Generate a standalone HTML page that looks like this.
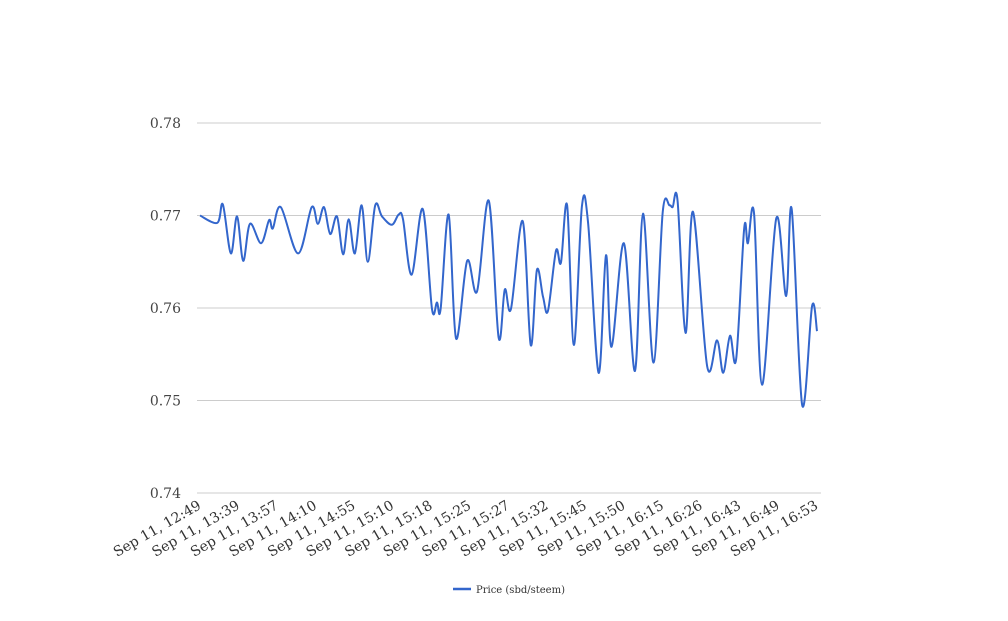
<!DOCTYPE html>
<html><head><meta charset="utf-8">
<style>
html,body{margin:0;padding:0;background:#fff;}
svg text{font-family:"DejaVu Serif","Liberation Serif",serif;}
</style></head>
<body>
<svg id="chart" width="1008" height="616" viewBox="0 0 1008 616" xmlns="http://www.w3.org/2000/svg">
<g id="grid"></g>
<g id="yaxis"></g>
<g id="xaxis"></g>
<g id="series"></g>
<g>
<line x1="453" y1="589" x2="471" y2="589" stroke="#3366cc" stroke-width="2.5"/>
<text x="476" y="593" font-size="10" fill="#333">Price (sbd/steem)</text>
</g>
</svg>
<script>
const yTicks = [0.74, 0.75, 0.76, 0.77, 0.78];
const yTickLabels = ["0.74", "0.75", "0.76", "0.77", "0.78"];
const xTickLabels = ["Sep 11, 12:49","Sep 11, 13:39","Sep 11, 13:57","Sep 11, 14:10","Sep 11, 14:55","Sep 11, 15:10","Sep 11, 15:18","Sep 11, 15:25","Sep 11, 15:27","Sep 11, 15:32","Sep 11, 15:45","Sep 11, 15:50","Sep 11, 16:15","Sep 11, 16:26","Sep 11, 16:43","Sep 11, 16:49","Sep 11, 16:53"];
const tPos = [0,2.8,3.7,5.0,6.0,7.0,8.1,9.9,11.2,11.8,13.1,15.9,18.1,19.1,20.1,21.1,22.2,23.2,24.1,25.1,26.2,27.2,28.4,29.5,31.1,32.2,32.9,34.3,36.1,37.6,38.4,39.0,40.3,41.5,43.3,44.9,46.8,48.4,49.4,50.4,52.3,53.6,54.6,55.6,56.4,57.7,58.5,59.5,60.6,61.9,62.9,64.6,65.8,66.7,68.7,70.5,71.8,73.5,75.0,76.1,76.6,77.4,78.7,79.9,82.2,83.8,84.8,85.9,86.9,88.2,88.8,89.8,91.1,93.4,95.0,95.9,97.6,99.2,100];
const price = [0.7700,0.7692,0.7712,0.7659,0.7699,0.7651,0.7691,0.7670,0.7695,0.7686,0.7709,0.7659,0.7709,0.7691,0.7709,0.7680,0.7699,0.7658,0.7696,0.7659,0.7711,0.7650,0.7711,0.7699,0.7690,0.7701,0.7696,0.7636,0.7707,0.7599,0.7606,0.7599,0.7701,0.7567,0.7651,0.7618,0.7716,0.7568,0.7620,0.7599,0.7694,0.7560,0.7641,0.7612,0.7597,0.7662,0.7649,0.7711,0.7560,0.7710,0.7692,0.7530,0.7657,0.7558,0.7670,0.7532,0.7702,0.7541,0.7704,0.7711,0.7709,0.7716,0.7573,0.7704,0.7537,0.7565,0.7530,0.7570,0.7545,0.7686,0.7670,0.7702,0.7517,0.7697,0.7613,0.7707,0.7495,0.7602,0.7575];

const NS="http://www.w3.org/2000/svg";
const L=197,R=821,T=123,B=493, X0=200, X1=817;
const yMin=0.74,yMax=0.78;
function yScale(v){return B-(v-yMin)/(yMax-yMin)*(B-T);}
function xScale(t){return X0+t/100*(X1-X0);}
const grid=document.getElementById('grid'), yax=document.getElementById('yaxis'), xax=document.getElementById('xaxis'), ser=document.getElementById('series');
yTicks.forEach((v,i)=>{
  const y=yScale(v);
  const ln=document.createElementNS(NS,'line');
  ln.setAttribute('x1',L);ln.setAttribute('x2',R);ln.setAttribute('y1',y);ln.setAttribute('y2',y);
  ln.setAttribute('stroke','#cccccc');ln.setAttribute('stroke-width','1');
  
  
  grid.appendChild(ln);
  const tx=document.createElementNS(NS,'text');
  tx.setAttribute('x',181);tx.setAttribute('y',y+5);tx.setAttribute('text-anchor','end');
  tx.setAttribute('font-size','14');tx.setAttribute('fill','#444');
  tx.textContent=yTickLabels[i];
  
  
  yax.appendChild(tx);
});
xTickLabels.forEach((s,i)=>{
  const x=xScale(i*100/(xTickLabels.length-1));
  const tx=document.createElementNS(NS,'text');
  tx.setAttribute('transform','translate('+(x+2)+',508) rotate(-30)');
  tx.setAttribute('text-anchor','end');
  tx.setAttribute('font-size','14');tx.setAttribute('fill','#333');
  tx.textContent=s;
  
  
  xax.appendChild(tx);
});
const pts=tPos.map((t,i)=>[xScale(t),yScale(price[i])]);
let d='M'+pts[0][0]+','+pts[0][1];
for(let i=0;i<pts.length-1;i++){
  const p0=pts[Math.max(0,i-1)],p1=pts[i],p2=pts[i+1],p3=pts[Math.min(pts.length-1,i+2)];
  const k=1/6;
  const c1=[p1[0]+(p2[0]-p0[0])*k,p1[1]+(p2[1]-p0[1])*k];
  const c2=[p2[0]-(p3[0]-p1[0])*k,p2[1]-(p3[1]-p1[1])*k];
  d+=' C'+c1[0].toFixed(2)+','+c1[1].toFixed(2)+' '+c2[0].toFixed(2)+','+c2[1].toFixed(2)+' '+p2[0].toFixed(2)+','+p2[1].toFixed(2);
}
const path=document.createElementNS(NS,'path');
path.setAttribute('d',d);path.setAttribute('fill','none');path.setAttribute('stroke','#3366cc');path.setAttribute('stroke-width','2');


ser.appendChild(path);
</script>
</body></html>
